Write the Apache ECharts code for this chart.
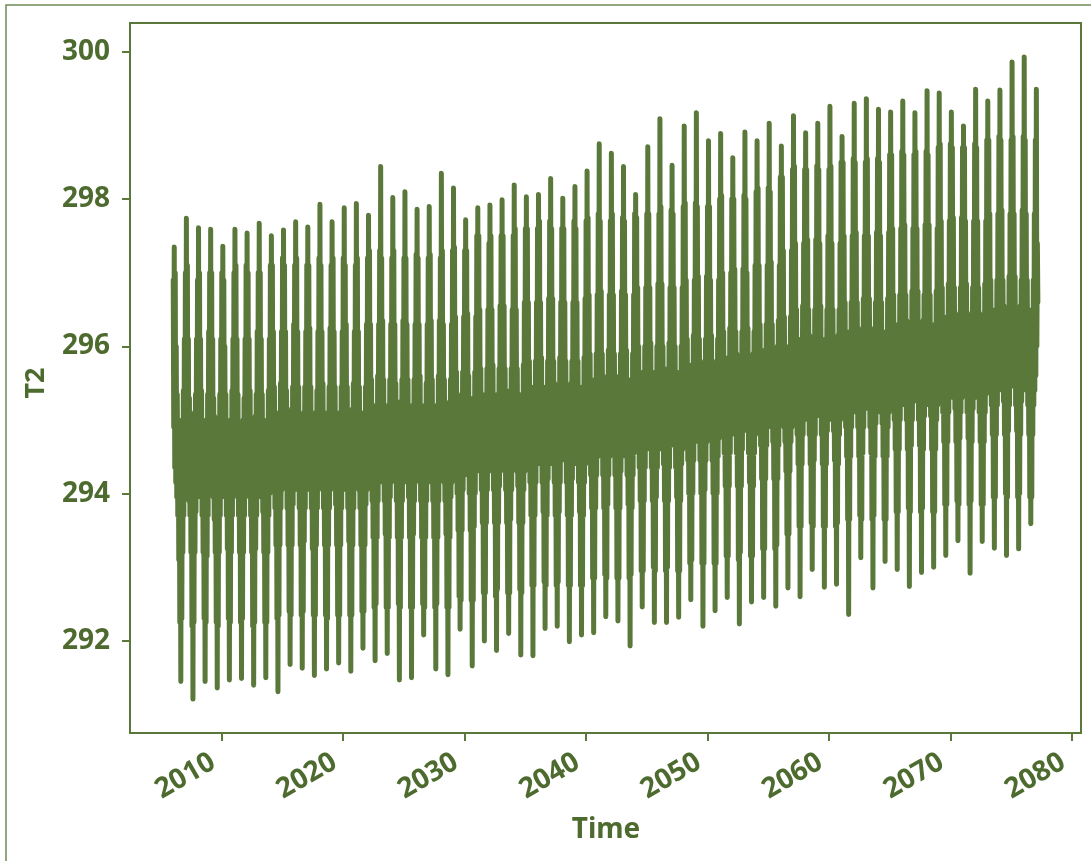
<!DOCTYPE html>
<html>
<head>
<meta charset="utf-8">
<title>T2 time series</title>
<script src="https://cdn.jsdelivr.net/npm/echarts@6/dist/echarts.min.js"></script>
<style>
  html, body { margin: 0; padding: 0; background: #ffffff; }
  #chart { width: 1091px; height: 861px; }
</style>
</head>
<body>
<div id="chart"></div>
<script>
// 2 m air temperature (K). One row per year starting in January,
// two samples per month (start of month, mid-month).
const startYear = 2006;
const samplesPerYear = 24;
const t2Rows = [
  [296.9, 294.9, 297.35, 294.35, 297.0, 294.15, 296.0, 293.95, 295.35, 293.7, 295.0, 293.1, 294.9, 292.25, 294.8, 291.45, 294.9, 292.3, 295.0, 293.2, 295.4, 293.7, 296.1, 293.95],
  [297.0, 294.1, 297.74, 294.35, 297.1, 294.15, 296.1, 293.9, 295.3, 293.7, 295.0, 293.2, 294.85, 292.2, 294.8, 291.21, 294.9, 292.25, 295.1, 293.2, 295.35, 293.75, 296.1, 293.95],
  [296.9, 294.15, 297.61, 294.4, 297.0, 294.2, 296.1, 293.95, 295.4, 293.7, 295.0, 293.2, 294.9, 292.3, 294.75, 291.45, 294.9, 292.25, 295.0, 293.15, 295.35, 293.7, 296.2, 294.0],
  [297.0, 294.15, 297.59, 294.35, 297.0, 294.1, 296.1, 293.95, 295.3, 293.65, 295.05, 293.2, 294.9, 292.25, 294.8, 291.36, 294.95, 292.2, 295.0, 293.2, 295.35, 293.7, 296.1, 293.95],
  [297.0, 294.15, 297.36, 294.3, 296.9, 294.15, 296.0, 293.95, 295.35, 293.7, 295.0, 293.25, 294.9, 292.3, 294.8, 291.47, 294.9, 292.25, 295.0, 293.2, 295.4, 293.7, 296.1, 294.0],
  [297.0, 294.2, 297.59, 294.35, 297.1, 294.15, 296.1, 293.95, 295.35, 293.7, 294.95, 293.2, 294.9, 292.25, 294.85, 291.49, 294.9, 292.3, 295.0, 293.2, 295.3, 293.7, 296.1, 293.95],
  [297.1, 294.15, 297.54, 294.4, 297.0, 294.15, 296.1, 294.0, 295.4, 293.7, 295.0, 293.2, 294.95, 292.2, 294.8, 291.40, 294.9, 292.25, 295.05, 293.25, 295.35, 293.7, 296.2, 293.95],
  [297.0, 294.15, 297.67, 294.35, 297.0, 294.2, 296.1, 293.95, 295.35, 293.75, 295.0, 293.2, 294.9, 292.25, 294.8, 291.50, 294.95, 292.25, 295.0, 293.2, 295.4, 293.7, 296.1, 294.0],
  [297.1, 294.25, 297.50, 294.45, 297.1, 294.2, 296.2, 294.05, 295.45, 293.8, 295.1, 293.3, 295.0, 292.3, 294.9, 291.31, 295.0, 292.35, 295.1, 293.3, 295.5, 293.8, 296.2, 294.05],
  [297.2, 294.25, 297.58, 294.45, 297.1, 294.25, 296.2, 294.1, 295.4, 293.8, 295.1, 293.3, 295.0, 292.4, 294.9, 291.68, 295.0, 292.35, 295.15, 293.3, 295.45, 293.85, 296.3, 294.05],
  [297.1, 294.3, 297.69, 294.45, 297.2, 294.25, 296.2, 294.05, 295.45, 293.8, 295.05, 293.3, 295.0, 292.35, 294.9, 291.63, 295.0, 292.4, 295.1, 293.35, 295.45, 293.8, 296.2, 294.05],
  [297.1, 294.25, 297.62, 294.5, 297.1, 294.25, 296.25, 294.05, 295.45, 293.8, 295.1, 293.25, 295.0, 292.35, 294.95, 291.53, 295.0, 292.35, 295.1, 293.3, 295.4, 293.8, 296.2, 294.1],
  [297.2, 294.25, 297.93, 294.45, 297.1, 294.3, 296.2, 294.05, 295.5, 293.8, 295.1, 293.3, 295.05, 292.35, 294.9, 291.62, 295.0, 292.3, 295.1, 293.3, 295.45, 293.8, 296.25, 294.05],
  [297.1, 294.25, 297.69, 294.45, 297.2, 294.25, 296.2, 294.1, 295.45, 293.85, 295.1, 293.3, 295.0, 292.35, 294.9, 291.70, 295.05, 292.35, 295.1, 293.3, 295.45, 293.8, 296.2, 294.05],
  [297.2, 294.3, 297.88, 294.45, 297.1, 294.25, 296.3, 294.05, 295.45, 293.8, 295.1, 293.35, 295.0, 292.35, 294.9, 291.59, 295.0, 292.35, 295.15, 293.3, 295.5, 293.8, 296.2, 294.1],
  [297.1, 294.25, 297.94, 294.5, 297.2, 294.25, 296.2, 294.05, 295.45, 293.8, 295.1, 293.3, 295.0, 292.4, 294.95, 291.90, 295.0, 292.4, 295.1, 293.3, 295.45, 293.85, 296.3, 294.05],
  [297.2, 294.35, 297.78, 294.55, 297.3, 294.35, 296.3, 294.15, 295.55, 293.9, 295.2, 293.4, 295.1, 292.45, 295.0, 291.73, 295.1, 292.5, 295.2, 293.4, 295.6, 293.9, 296.3, 294.15],
  [297.3, 294.35, 298.44, 294.55, 297.2, 294.4, 296.35, 294.15, 295.55, 293.9, 295.2, 293.45, 295.1, 292.45, 295.0, 291.83, 295.15, 292.45, 295.2, 293.4, 295.55, 293.95, 296.3, 294.15],
  [297.2, 294.4, 298.02, 294.55, 297.3, 294.35, 296.3, 294.2, 295.5, 293.9, 295.25, 293.4, 295.1, 292.5, 295.0, 291.47, 295.1, 292.45, 295.25, 293.4, 295.55, 293.9, 296.35, 294.15],
  [297.2, 294.35, 298.10, 294.6, 297.2, 294.35, 296.3, 294.15, 295.55, 293.95, 295.2, 293.4, 295.15, 292.45, 295.05, 291.50, 295.1, 292.45, 295.2, 293.45, 295.55, 293.9, 296.3, 294.2],
  [297.25, 294.35, 297.86, 294.55, 297.2, 294.35, 296.3, 294.15, 295.6, 293.9, 295.2, 293.4, 295.1, 292.5, 295.0, 292.08, 295.1, 292.45, 295.2, 293.4, 295.5, 293.9, 296.3, 294.15],
  [297.2, 294.4, 297.90, 294.55, 297.25, 294.35, 296.35, 294.15, 295.55, 293.9, 295.2, 293.4, 295.1, 292.45, 295.0, 291.62, 295.15, 292.5, 295.2, 293.4, 295.6, 293.9, 296.35, 294.2],
  [297.2, 294.35, 298.35, 294.6, 297.3, 294.35, 296.3, 294.15, 295.55, 293.9, 295.25, 293.45, 295.1, 292.45, 295.05, 291.54, 295.1, 292.45, 295.2, 293.4, 295.55, 293.95, 296.3, 294.15],
  [297.3, 294.45, 298.15, 294.65, 297.35, 294.45, 296.4, 294.25, 295.65, 294.0, 295.3, 293.5, 295.2, 292.6, 295.1, 292.16, 295.2, 292.55, 295.35, 293.5, 295.65, 294.05, 296.4, 294.25],
  [297.3, 294.5, 297.72, 294.65, 297.3, 294.45, 296.45, 294.25, 295.6, 294.0, 295.3, 293.5, 295.2, 292.55, 295.1, 291.66, 295.25, 292.55, 295.3, 293.55, 295.65, 294.0, 296.4, 294.3],
  [297.5, 294.5, 297.88, 294.65, 297.5, 294.5, 296.5, 294.3, 295.7, 294.05, 295.35, 293.6, 295.2, 292.65, 295.1, 292.00, 295.2, 292.65, 295.35, 293.6, 295.7, 294.05, 296.5, 294.3],
  [297.4, 294.5, 297.92, 294.7, 297.5, 294.55, 296.5, 294.3, 295.75, 294.05, 295.35, 293.6, 295.25, 292.6, 295.1, 291.87, 295.2, 292.7, 295.35, 293.6, 295.7, 294.1, 296.55, 294.3],
  [297.5, 294.5, 297.99, 294.65, 297.5, 294.5, 296.55, 294.35, 295.7, 294.05, 295.4, 293.6, 295.2, 292.65, 295.15, 292.10, 295.2, 292.65, 295.4, 293.65, 295.7, 294.05, 296.5, 294.35],
  [297.5, 294.55, 298.19, 294.65, 297.6, 294.5, 296.5, 294.3, 295.7, 294.1, 295.35, 293.6, 295.2, 292.7, 295.1, 291.81, 295.25, 292.65, 295.35, 293.6, 295.75, 294.05, 296.6, 294.3],
  [297.6, 294.6, 298.03, 294.75, 297.6, 294.6, 296.6, 294.4, 295.8, 294.15, 295.45, 293.7, 295.3, 292.75, 295.2, 291.80, 295.3, 292.75, 295.45, 293.7, 295.8, 294.15, 296.6, 294.4],
  [297.6, 294.6, 298.06, 294.8, 297.7, 294.6, 296.6, 294.4, 295.85, 294.15, 295.45, 293.75, 295.3, 292.8, 295.2, 292.17, 295.35, 292.75, 295.45, 293.7, 295.8, 294.2, 296.65, 294.4],
  [297.7, 294.6, 298.28, 294.75, 297.6, 294.65, 296.65, 294.4, 295.8, 294.15, 295.5, 293.7, 295.3, 292.75, 295.25, 292.20, 295.3, 292.8, 295.45, 293.75, 295.85, 294.15, 296.6, 294.45],
  [297.6, 294.6, 298.01, 294.75, 297.6, 294.6, 296.6, 294.45, 295.8, 294.15, 295.45, 293.7, 295.35, 292.75, 295.2, 291.99, 295.3, 292.75, 295.5, 293.7, 295.8, 294.2, 296.6, 294.4],
  [297.7, 294.65, 298.17, 294.75, 297.6, 294.6, 296.6, 294.4, 295.8, 294.15, 295.45, 293.75, 295.3, 292.75, 295.2, 292.08, 295.3, 292.75, 295.45, 293.7, 295.85, 294.15, 296.65, 294.4],
  [297.7, 294.7, 298.38, 294.85, 297.75, 294.7, 296.7, 294.5, 295.9, 294.25, 295.55, 293.8, 295.4, 292.85, 295.3, 292.11, 295.4, 292.85, 295.55, 293.8, 295.9, 294.25, 296.7, 294.5],
  [297.8, 294.7, 298.75, 294.85, 297.7, 294.75, 296.75, 294.5, 295.9, 294.25, 295.6, 293.8, 295.4, 292.9, 295.3, 292.33, 295.45, 292.85, 295.55, 293.85, 295.95, 294.25, 296.7, 294.5],
  [297.7, 294.7, 298.62, 294.9, 297.8, 294.7, 296.7, 294.55, 295.9, 294.25, 295.55, 293.8, 295.45, 292.85, 295.3, 292.27, 295.4, 292.85, 295.6, 293.8, 295.9, 294.3, 296.75, 294.5],
  [297.75, 294.75, 298.44, 294.85, 297.7, 294.7, 296.7, 294.5, 295.95, 294.25, 295.55, 293.85, 295.4, 292.85, 295.35, 291.93, 295.4, 292.9, 295.55, 293.8, 295.9, 294.25, 296.7, 294.55],
  [297.8, 294.8, 298.06, 294.95, 297.75, 294.8, 296.8, 294.6, 296.0, 294.35, 295.65, 293.9, 295.5, 292.95, 295.4, 292.46, 295.5, 292.95, 295.65, 293.9, 296.0, 294.35, 296.8, 294.6],
  [297.8, 294.8, 298.71, 295.0, 297.8, 294.85, 296.8, 294.6, 296.05, 294.35, 295.65, 293.9, 295.5, 293.0, 295.4, 292.25, 295.55, 292.95, 295.65, 293.95, 296.0, 294.35, 296.85, 294.6],
  [297.8, 294.8, 299.09, 294.95, 297.9, 294.8, 296.85, 294.6, 296.0, 294.4, 295.7, 293.9, 295.5, 292.95, 295.45, 292.25, 295.5, 293.0, 295.7, 293.9, 296.05, 294.35, 296.8, 294.65],
  [297.85, 294.85, 298.46, 294.95, 297.8, 294.8, 296.8, 294.65, 296.0, 294.35, 295.65, 293.95, 295.55, 292.95, 295.4, 292.32, 295.5, 292.95, 295.65, 293.9, 296.0, 294.4, 296.8, 294.6],
  [297.9, 294.9, 298.99, 295.05, 297.95, 294.9, 296.9, 294.7, 296.1, 294.45, 295.75, 294.0, 295.6, 293.05, 295.5, 292.56, 295.6, 293.1, 295.75, 294.0, 296.15, 294.45, 296.9, 294.7],
  [297.95, 294.9, 299.17, 295.1, 297.9, 294.95, 296.95, 294.7, 296.1, 294.45, 295.8, 294.0, 295.6, 293.05, 295.5, 292.20, 295.65, 293.05, 295.75, 294.05, 296.1, 294.45, 296.95, 294.7],
  [297.9, 294.95, 298.79, 295.05, 297.9, 294.9, 296.9, 294.75, 296.15, 294.45, 295.75, 294.0, 295.65, 293.05, 295.5, 292.41, 295.6, 293.05, 295.8, 294.0, 296.1, 294.5, 296.9, 294.75],
  [298.0, 295.0, 298.89, 295.15, 298.05, 295.0, 297.0, 294.8, 296.2, 294.55, 295.85, 294.1, 295.7, 293.15, 295.6, 292.59, 295.7, 293.15, 295.85, 294.1, 296.25, 294.55, 297.0, 294.8],
  [298.0, 295.0, 298.56, 295.2, 298.0, 295.05, 297.05, 294.8, 296.2, 294.55, 295.9, 294.1, 295.75, 293.1, 295.6, 292.23, 295.7, 293.2, 295.85, 294.1, 296.2, 294.6, 297.05, 294.85],
  [298.05, 295.0, 298.91, 295.2, 298.0, 295.0, 297.0, 294.85, 296.25, 294.55, 295.85, 294.15, 295.7, 293.15, 295.65, 292.53, 295.7, 293.15, 295.9, 294.1, 296.2, 294.55, 297.1, 294.8],
  [298.1, 295.1, 298.79, 295.25, 298.15, 295.1, 297.1, 294.9, 296.3, 294.65, 295.95, 294.2, 295.8, 293.25, 295.7, 292.59, 295.8, 293.25, 295.95, 294.2, 296.3, 294.65, 297.1, 294.9],
  [298.15, 295.1, 299.03, 295.25, 298.1, 295.15, 297.15, 294.9, 296.3, 294.7, 295.95, 294.2, 295.85, 293.25, 295.7, 292.47, 295.8, 293.3, 296.0, 294.2, 296.35, 294.65, 297.1, 294.95],
  [298.3, 295.1, 298.72, 295.3, 298.3, 295.1, 297.3, 294.9, 296.4, 294.7, 296.0, 294.3, 295.85, 293.45, 295.75, 292.72, 295.85, 293.45, 296.0, 294.3, 296.4, 294.7, 297.3, 294.9],
  [298.4, 295.2, 299.13, 295.4, 298.45, 295.2, 297.4, 295.0, 296.5, 294.8, 296.1, 294.4, 295.95, 293.55, 295.85, 292.60, 295.95, 293.55, 296.1, 294.4, 296.55, 294.8, 297.4, 295.0],
  [298.4, 295.2, 298.90, 295.4, 298.4, 295.25, 297.45, 295.0, 296.5, 294.8, 296.15, 294.4, 295.95, 293.6, 295.85, 292.97, 296.0, 293.55, 296.1, 294.45, 296.5, 294.8, 297.45, 295.05],
  [298.45, 295.2, 299.03, 295.4, 298.4, 295.2, 297.4, 295.05, 296.55, 294.8, 296.1, 294.4, 296.0, 293.55, 295.85, 292.73, 295.95, 293.55, 296.1, 294.4, 296.5, 294.85, 297.5, 295.0],
  [298.4, 295.25, 299.26, 295.4, 298.45, 295.2, 297.4, 295.0, 296.5, 294.85, 296.1, 294.45, 295.95, 293.55, 295.9, 292.77, 295.95, 293.6, 296.15, 294.4, 296.5, 294.8, 297.4, 295.0],
  [298.5, 295.3, 298.85, 295.5, 298.5, 295.3, 297.5, 295.1, 296.6, 294.9, 296.2, 294.5, 296.05, 293.65, 295.95, 292.36, 296.05, 293.65, 296.2, 294.5, 296.6, 294.9, 297.5, 295.1],
  [298.55, 295.3, 299.30, 295.5, 298.5, 295.35, 297.55, 295.1, 296.6, 294.9, 296.25, 294.5, 296.05, 293.7, 296.0, 293.13, 296.1, 293.65, 296.2, 294.55, 296.65, 294.9, 297.5, 295.15],
  [298.5, 295.35, 299.36, 295.5, 298.55, 295.3, 297.5, 295.15, 296.65, 294.9, 296.2, 294.55, 296.1, 293.65, 295.95, 292.72, 296.05, 293.7, 296.25, 294.5, 296.6, 294.95, 297.55, 295.1],
  [298.55, 295.3, 299.22, 295.55, 298.5, 295.3, 297.5, 295.1, 296.6, 294.95, 296.2, 294.5, 296.05, 293.65, 296.0, 293.08, 296.05, 293.65, 296.2, 294.5, 296.65, 294.9, 297.55, 295.1],
  [298.6, 295.4, 299.18, 295.6, 298.6, 295.4, 297.6, 295.2, 296.7, 295.0, 296.3, 294.6, 296.15, 293.75, 296.05, 292.97, 296.15, 293.75, 296.3, 294.6, 296.7, 295.0, 297.6, 295.2],
  [298.65, 295.4, 299.33, 295.65, 298.6, 295.45, 297.65, 295.2, 296.7, 295.0, 296.35, 294.6, 296.15, 293.8, 296.1, 292.74, 296.2, 293.75, 296.3, 294.65, 296.75, 295.0, 297.6, 295.25],
  [298.6, 295.45, 299.17, 295.6, 298.65, 295.4, 297.6, 295.25, 296.75, 295.0, 296.3, 294.65, 296.2, 293.75, 296.05, 292.93, 296.15, 293.8, 296.35, 294.6, 296.7, 295.05, 297.65, 295.2],
  [298.65, 295.4, 299.47, 295.6, 298.6, 295.4, 297.65, 295.2, 296.7, 295.05, 296.3, 294.6, 296.15, 293.75, 296.1, 293.00, 296.2, 293.75, 296.3, 294.6, 296.75, 295.0, 297.6, 295.2],
  [298.7, 295.5, 299.44, 295.7, 298.75, 295.5, 297.7, 295.3, 296.8, 295.1, 296.4, 294.7, 296.25, 293.85, 296.15, 293.16, 296.25, 293.85, 296.4, 294.7, 296.85, 295.1, 297.7, 295.3],
  [298.75, 295.5, 299.18, 295.7, 298.7, 295.55, 297.75, 295.3, 296.8, 295.15, 296.45, 294.7, 296.25, 293.9, 296.2, 293.36, 296.3, 293.85, 296.4, 294.75, 296.8, 295.1, 297.75, 295.3],
  [298.7, 295.55, 298.99, 295.7, 298.7, 295.5, 297.7, 295.35, 296.85, 295.1, 296.4, 294.75, 296.3, 293.85, 296.15, 292.92, 296.25, 293.9, 296.45, 294.7, 296.8, 295.15, 297.7, 295.3],
  [298.75, 295.5, 299.49, 295.75, 298.7, 295.5, 297.7, 295.3, 296.8, 295.1, 296.45, 294.7, 296.25, 293.85, 296.2, 293.35, 296.25, 293.85, 296.4, 294.7, 296.85, 295.1, 297.7, 295.35],
  [298.8, 295.6, 299.33, 295.8, 298.8, 295.6, 297.8, 295.4, 296.9, 295.2, 296.5, 294.8, 296.35, 293.95, 296.25, 293.26, 296.35, 293.95, 296.5, 294.8, 296.9, 295.2, 297.8, 295.4],
  [298.85, 295.6, 299.48, 295.85, 298.8, 295.65, 297.85, 295.4, 296.9, 295.25, 296.55, 294.8, 296.35, 294.0, 296.3, 293.16, 296.4, 293.95, 296.5, 294.85, 296.95, 295.2, 297.8, 295.45],
  [298.8, 295.65, 299.86, 295.8, 298.85, 295.6, 297.8, 295.45, 296.95, 295.2, 296.5, 294.85, 296.4, 293.95, 296.25, 293.25, 296.35, 294.0, 296.55, 294.8, 296.9, 295.25, 297.85, 295.4],
  [298.85, 295.6, 299.93, 295.85, 298.8, 295.6, 297.8, 295.4, 296.9, 295.2, 296.5, 294.8, 296.35, 293.95, 296.3, 293.59, 296.35, 293.95, 296.5, 294.8, 296.9, 295.2, 297.8, 295.4],
  [298.8, 295.6, 299.49, 296.0, 297.4, 296.6]
];

const xTickYears = [2010, 2020, 2030, 2040, 2050, 2060, 2070, 2080];
const yTickValues = [292, 294, 296, 298, 300];

// Decimal-year x for every sample.
const series = [];
t2Rows.forEach((row, yi) => {
  row.forEach((v, j) => series.push([startYear + yi + j / samplesPerYear, v]));
});

const ink = '#5a7839';
const textInk = '#4e6b2f';
const font = '"Noto Sans", "Open Sans", sans-serif';

const chart = echarts.init(document.getElementById('chart'), null, { renderer: 'canvas' });
chart.setOption({
  backgroundColor: '#ffffff',
  animation: false,
  grid: {
    left: 130, top: 23, right: 10, bottom: 128,
    show: true, borderColor: ink, borderWidth: 2, backgroundColor: 'transparent'
  },
  xAxis: {
    type: 'value',
    min: 2002.44, max: 2080.76,
    splitLine: { show: false },
    axisLine: { show: true, onZero: false, lineStyle: { color: ink, width: 2 } },
    axisTick: { show: true, length: 8, lineStyle: { color: ink, width: 2 }, customValues: xTickYears },
    axisLabel: {
      customValues: xTickYears,
      rotate: 30, margin: 22, padding: [0, 10, 0, 0],
      color: textInk, fontFamily: font, fontWeight: 'bold', fontSize: 28,
      formatter: v => String(v)
    }
  },
  yAxis: {
    type: 'value',
    min: 290.75, max: 300.39,
    splitLine: { show: false },
    axisLine: { show: true, onZero: false, lineStyle: { color: ink, width: 2 } },
    axisTick: { show: true, length: 8, lineStyle: { color: ink, width: 2 }, customValues: yTickValues },
    axisLabel: {
      customValues: yTickValues,
      margin: 20,
      color: textInk, fontFamily: font, fontWeight: 'bold', fontSize: 28,
      formatter: v => String(v)
    }
  },
  series: [{
    type: 'line',
    data: series,
    showSymbol: false,
    symbol: 'none',
    sampling: null,
    clip: true,
    lineStyle: { color: ink, width: 5, cap: 'round', join: 'round' }
  }],
  graphic: [
    {
      type: 'rect', silent: true, z: -1,
      shape: { x: 6, y: 5, width: 1200, height: 1000 },
      style: { fill: 'none', stroke: '#6f8a55', lineWidth: 1.5 }
    },
    {
      type: 'text', silent: true,
      x: 36, y: 383, rotation: Math.PI / 2,
      style: { text: 'T2', fill: textInk, font: 'bold 27px ' + font, align: 'center', verticalAlign: 'middle' }
    },
    {
      type: 'text', silent: true,
      x: 606, y: 830,
      style: { text: 'Time', fill: textInk, font: 'bold 28px ' + font, align: 'center', verticalAlign: 'middle' }
    }
  ]
});
</script>
</body>
</html>
